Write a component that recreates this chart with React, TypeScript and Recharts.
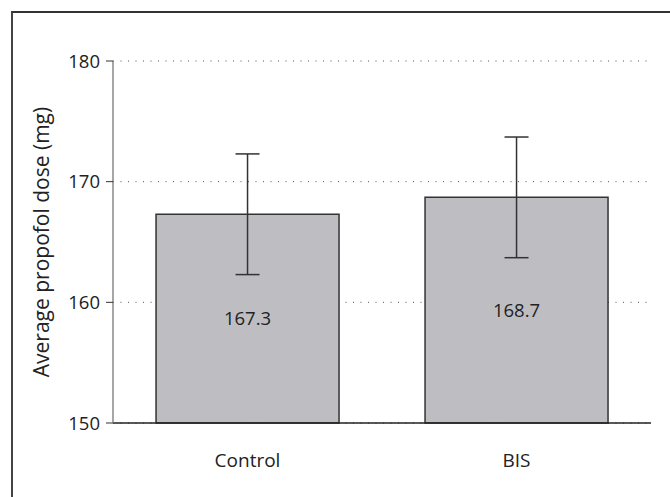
import { BarChart, Bar, XAxis, YAxis, CartesianGrid, ErrorBar, LabelList } from 'recharts';

const groups = ['Control', 'BIS'];
const doses = [167.3, 168.7];
const errors = [5, 5];
const yTicks = [150, 160, 170, 180];

const data = groups.map((g, i) => ({ group: g, dose: doses[i], err: errors[i] }));

const font = '"Open Sans", sans-serif';

export default function App() {
  return (
    <div style={{ position: 'absolute', left: 0, top: 0, width: 670, height: 497, background: '#fff', fontFamily: font }}>
      <div
        style={{
          position: 'absolute', left: 11, top: 11, right: 0, bottom: -10,
          borderTop: '2px solid #333', borderLeft: '2px solid #444',
        }}
      />
      <BarChart
        width={670}
        height={497}
        data={data}
        margin={{ top: 61, right: 19, left: 53, bottom: 44 }}
        barCategoryGap="16%"
        style={{ position: 'absolute', left: 0, top: 0 }}
      >
        <CartesianGrid vertical={false} stroke="#555" strokeDasharray="1 6.5" />
        <XAxis
          dataKey="group"
          height={30}
          axisLine={{ stroke: '#222', strokeWidth: 1.5 }}
          tickLine={false}
          tickSize={0}
          tickMargin={31}
          tick={{ fontSize: 19, fill: '#222', fontFamily: font }}
        />
        <YAxis
          width={60}
          domain={[150, 180]}
          ticks={yTicks}
          interval={0}
          axisLine={{ stroke: '#888', strokeWidth: 1.5 }}
          tickLine={{ stroke: '#333' }}
          tickSize={7}
          tickMargin={6}
          tick={{ fontSize: 18.5, fill: '#222', fontFamily: font }}
          label={{
            value: 'Average propofol dose (mg)',
            angle: -90,
            position: 'insideLeft',
            dx: -16,
            style: { textAnchor: 'middle', fontSize: 21, fill: '#222', fontFamily: font },
          }}
        />
        <Bar dataKey="dose" fill="#bebec2" stroke="#333" strokeWidth={1.5} isAnimationActive={false}>
          <ErrorBar dataKey="err" width={12} stroke="#333" strokeWidth={1.5} isAnimationActive={false} />
          <LabelList dataKey="dose" position="center" fill="#222" fontSize={18.5} fontFamily={font} />
        </Bar>
      </BarChart>
    </div>
  );
}
